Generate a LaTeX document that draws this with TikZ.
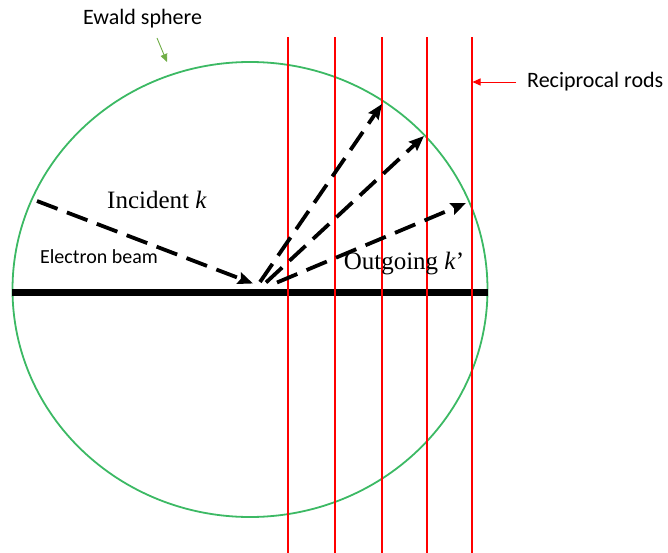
\documentclass[tikz,border=0pt]{standalone}
\usepackage{fontspec}
\setmainfont{Liberation Serif}
\newfontfamily\calfont{Carlito}
\usetikzlibrary{arrows.meta}
\definecolor{sphere}{RGB}{60,185,100}
\definecolor{ewaldarrow}{RGB}{112,173,71}
\definecolor{rod}{RGB}{255,0,0}
\tikzset{
  rodline/.style={draw=rod, line width=2pt},
  beam/.style={line width=3.8pt, dash pattern=on 22pt off 10pt, -{Stealth[length=15pt,width=12pt,inset=2pt]}},
  sanslabel/.style={font=\calfont\fontsize{22}{26}\selectfont, inner sep=0pt},
  smallsans/.style={font=\calfont\fontsize{20}{24}\selectfont, inner sep=0pt},
  seriflabel/.style={font=\fontsize{25}{30}\selectfont, inner sep=0pt},
}
\begin{document}
\begin{tikzpicture}[x=1pt,y=-1pt]
\useasboundingbox (0,0) rectangle (668,553);
% sphere
\draw[sphere, line width=1.8pt] (250,289.5) ellipse [x radius=237.5pt, y radius=227.5pt];
% surface
\coordinate (sL) at (12,292);
\coordinate (sR) at (488,292);
\draw[line width=7pt] (sL) -- (sR);
% rods
\foreach \i/\x in {1/288,2/335,3/381.5,4/427,5/471.5}{
  \coordinate (rt\i) at (\x,37.5);
  \coordinate (rb\i) at (\x,553);
  \draw[rodline] (rt\i) -- (rb\i);
}
% beams
\coordinate (inS) at (37,201);
\coordinate (inE) at (253,283.5);
\draw[beam] (inS) -- (inE);
\coordinate (o1S) at (260,282);
\coordinate (o1E) at (382,104);
\coordinate (o2S) at (266,282.5);
\coordinate (o2E) at (424,136);
\coordinate (o3S) at (277,282.5);
\coordinate (o3E) at (466,203);
\draw[beam] (o1S) -- (o1E);
\draw[beam] (o2S) -- (o2E);
\draw[beam] (o3S) -- (o3E);
% labels
\node[sanslabel] (ewald) at (142.5,19) {Ewald sphere};
\coordinate (ewS) at (157,38);
\coordinate (ewE) at (167,62);
\draw[ewaldarrow, line width=0.9pt, -{Triangle[length=8pt,width=7pt]}] (ewS) -- (ewE);
\node[sanslabel, anchor=west] (recip) at (527,82) {Reciprocal rods};
\coordinate (rcS) at (516,82);
\coordinate (rcE) at (472.5,82);
\draw[rod, line width=0.9pt, -{Triangle[length=8pt,width=7pt]}] (rcS) -- (rcE);
\node[smallsans] (ebeam) at (99,257) {Electron beam};
\node[seriflabel] (inc) at (157,200) {Incident \textit{k}};
\node[seriflabel] (out) at (404,264) {Outgoing \textit{k}’};
\end{tikzpicture}
\end{document}
